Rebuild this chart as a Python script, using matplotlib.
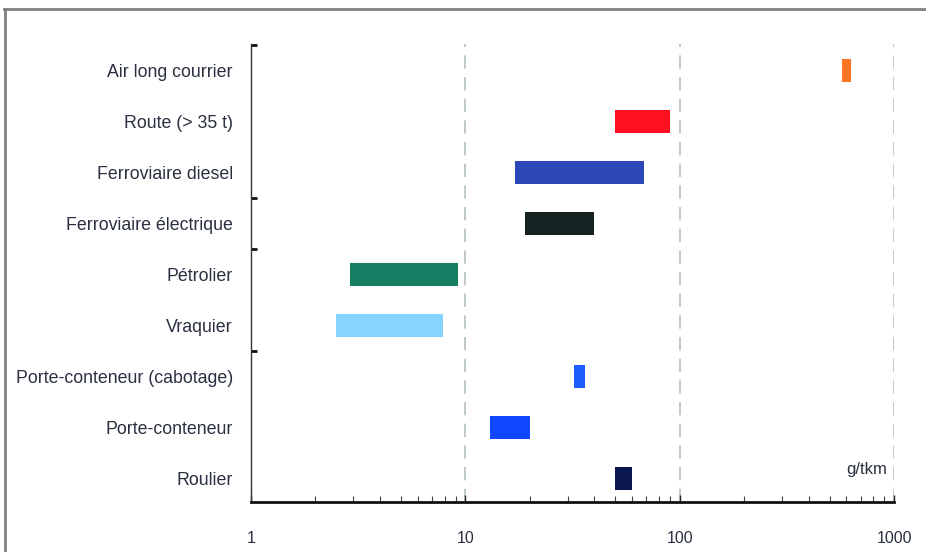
import matplotlib
matplotlib.use("Agg")
import matplotlib.pyplot as plt
from matplotlib.ticker import FixedLocator, NullFormatter, LogLocator
import numpy as np

# Emission ranges per transport mode (g/tkm), top to bottom
categories = [
    "Air long courrier",
    "Route (> 35 t)",
    "Ferroviaire diesel",
    "Ferroviaire électrique",
    "Pétrolier",
    "Vraquier",
    "Porte-conteneur (cabotage)",
    "Porte-conteneur",
    "Roulier",
]
low = [570, 50, 17, 19, 2.9, 2.5, 32, 13, 50]
high = [630, 90, 68, 40, 9.2, 7.9, 36, 20, 60]
colors = ["#ff7424", "#ff1020", "#2c48b8", "#142222", "#178064",
          "#86d4ff", "#1e5eff", "#1046ff", "#0c1650"]
x_ticks = [1, 10, 100, 1000]
x_tick_labels = ["1", "10", "100", "1000"]
group_breaks = [8.5, 5.5, 4.5, 2.5]
unit_label = "g/tkm"

font = ["Liberation Sans Narrow", "Liberation Sans", "DejaVu Sans"]
plt.rcParams["font.family"] = font
text_color = "#2a3040"

fig = plt.figure(figsize=(9.26, 5.52), dpi=100)
ax = fig.add_axes([0.271, 0.091, 0.6945, 0.829])

n = len(categories)
ypos = np.arange(n)[::-1]
widths = [h - l for l, h in zip(low, high)]
ax.barh(ypos, widths, left=low, height=0.45, color=colors,
        edgecolor="none", zorder=3)

ax.set_xscale("log")
ax.set_xlim(1, 1000)
ax.set_ylim(-0.46, 8.52)

# dashed vertical guides at each decade
for v in x_ticks[1:]:
    ax.axvline(v, color="#b4c0c0", lw=1.2, ls=(0, (8, 5)), zorder=1)

ax.set_xticks(x_ticks)
ax.set_xticklabels(x_tick_labels)
ax.xaxis.set_minor_locator(LogLocator(base=10, subs=np.arange(2, 10)))
ax.xaxis.set_minor_formatter(NullFormatter())
ax.tick_params(axis="x", which="major", direction="in", length=5, width=1,
               color="#222222", pad=21, labelsize=11.5, labelcolor=text_color)
ax.tick_params(axis="x", which="minor", direction="in", length=4, width=0.8,
               color="#444444")

ax.set_yticks(ypos)
ax.set_yticklabels(categories)
ax.yaxis.set_minor_locator(FixedLocator(group_breaks))
ax.tick_params(axis="y", which="major", length=0, pad=13, labelsize=12.8,
               labelcolor=text_color)
ax.tick_params(axis="y", which="minor", direction="in", length=4, width=2,
               color="#111111")

for s in ["top", "right"]:
    ax.spines[s].set_visible(False)
ax.spines["left"].set_color("#333333")
ax.spines["left"].set_linewidth(1.0)
ax.spines["bottom"].set_color("#111111")
ax.spines["bottom"].set_linewidth(2.0)

ax.text(0.99, 0.07, unit_label, transform=ax.transAxes, ha="right",
        va="center", fontsize=12, color=text_color)

# frame lines along the top and left edges of the figure
fig.add_artist(plt.Line2D([0.005, 0.005], [0, 0.983], transform=fig.transFigure,
                          color="#808080", lw=2))
fig.add_artist(plt.Line2D([0.004, 1], [0.983, 0.983], transform=fig.transFigure,
                          color="#808080", lw=2))

fig.savefig("out.png", dpi=100)
